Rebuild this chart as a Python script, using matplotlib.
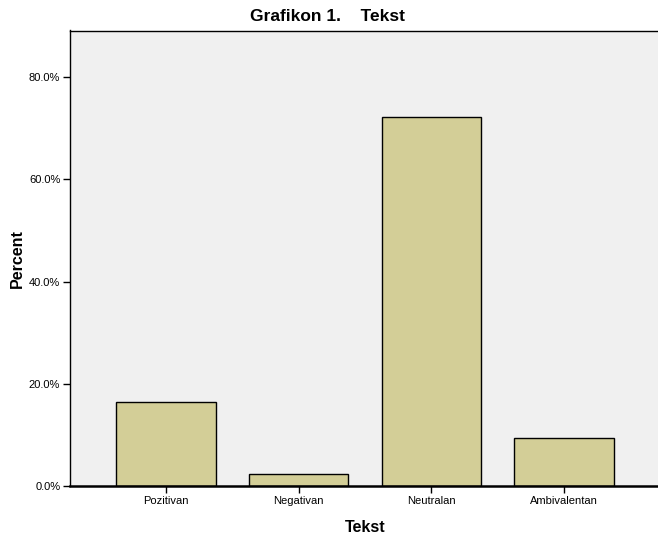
import matplotlib
matplotlib.use("Agg")
import matplotlib.pyplot as plt
import numpy as np

plt.rcParams['font.family'] = ['Liberation Sans', 'DejaVu Sans']

# Data
categories = ['Pozitivan', 'Negativan', 'Neutralan', 'Ambivalentan']
percents = [16.4, 2.4, 72.2, 9.4]
y_ticks = [0, 20, 40, 60, 80]

fig = plt.figure(figsize=(6.58, 5.34), dpi=100)
ax = fig.add_axes([70 / 658, 48 / 534, 590 / 658, 455.5 / 534])
ax.set_facecolor('#f0f0f0')

x = np.arange(len(categories))
ax.bar(x, percents, width=0.75, color='#d3ce97', edgecolor='black', linewidth=1.0, zorder=2)

ax.set_xlim(-0.72, 3.72)
ax.set_ylim(0, 89.1)
ax.set_xticks(x)
ax.set_xticklabels(categories, fontsize=8)
ax.set_yticks(y_ticks)
ax.set_yticklabels([f'{v:.1f}%' for v in y_ticks], fontsize=8)
ax.tick_params(axis='both', direction='out', length=5, width=1, colors='black', pad=2)

for side in ['top', 'left', 'right']:
    ax.spines[side].set_linewidth(1)
ax.spines['bottom'].set_linewidth(1.8)

ax.set_xlabel('Tekst', fontsize=11.5, fontweight='bold', labelpad=10)
ax.set_ylabel('Percent', fontsize=11.5, fontweight='bold', labelpad=3)

fig.text(0.497, 0.97, 'Grafikon 1.    Tekst', ha='center', va='center',
         fontsize=12.5, fontweight='bold')

fig.savefig('out.png', dpi=100)
